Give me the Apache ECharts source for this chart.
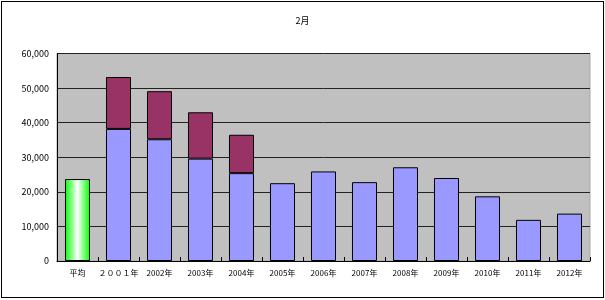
<!DOCTYPE html>
<html><head><meta charset="utf-8">
<script src="https://cdn.jsdelivr.net/npm/echarts@6/dist/echarts.min.js"></script>
<style>
html,body{margin:0;padding:0;background:#fff;}
#frame{position:absolute;left:1px;top:1px;width:601px;height:295px;border:1px solid #000;}
#c{position:absolute;left:0;top:0;width:605px;height:300px;}
</style></head>
<body>
<div id="frame"></div>
<div id="c"></div>
<script>
const categories = ['平均','２００１年','2002年','2003年','2004年','2005年','2006年','2007年','2008年','2009年','2010年','2011年','2012年'];
const lowerValues = [23700, 38200, 35200, 29600, 25400, 22500, 25900, 22800, 27100, 24000, 18700, 11900, 13700];
const upperValues = [null, 15000, 13900, 13400, 11100, null, null, null, null, null, null, null, null];
const yTicks = {min: 0, max: 60000, interval: 10000};

const chart = echarts.init(document.getElementById('c'), null, {renderer: 'canvas'});
const font = '"Noto Sans CJK JP", sans-serif';
const green = new echarts.graphic.LinearGradient(0, 0, 1, 0, [
  {offset: 0, color: '#00ff00'},
  {offset: 0.5, color: '#ffffff'},
  {offset: 1, color: '#00ff00'}
]);
const lowerData = lowerValues.map((v, i) => i === 0 ? {value: v, itemStyle: {color: green}} : v);
const upperData = upperValues.map(v => v === null ? '-' : v);

chart.setOption({
  animation: false,
  title: {
    text: '2月', left: 'center', top: 11,
    textStyle: {fontSize: 9, fontWeight: 'normal', color: '#000', fontFamily: font}
  },
  grid: {
    left: 57, right: 15, top: 53.5, bottom: 39,
    show: true, backgroundColor: '#c0c0c0', borderColor: '#a8a8a8', borderWidth: 1
  },
  xAxis: {
    type: 'category', data: categories,
    axisLine: {show: true, lineStyle: {color: '#000', width: 1}},
    axisTick: {show: true, inside: true, length: 4, lineStyle: {color: '#000'}},
    axisLabel: {color: '#000', fontSize: 8, fontFamily: font, margin: 8, interval: 0}
  },
  yAxis: {
    type: 'value', min: yTicks.min, max: yTicks.max, interval: yTicks.interval,
    axisLine: {show: true, lineStyle: {color: '#000', width: 1}},
    axisTick: {show: false},
    splitLine: {show: true, lineStyle: {color: '#222', width: 1}},
    axisLabel: {
      color: '#000', fontSize: 9, fontFamily: font, margin: 8,
      formatter: v => v.toLocaleString('en-US')
    }
  },
  series: [
    {
      type: 'bar', stack: 's', data: lowerData, barCategoryGap: '39%',
      itemStyle: {color: '#9999ff', borderColor: '#000', borderWidth: 1}
    },
    {
      type: 'bar', stack: 's', data: upperData, barCategoryGap: '39%',
      itemStyle: {color: '#993366', borderColor: '#000', borderWidth: 1}
    }
  ]
});
</script>
</body></html>
